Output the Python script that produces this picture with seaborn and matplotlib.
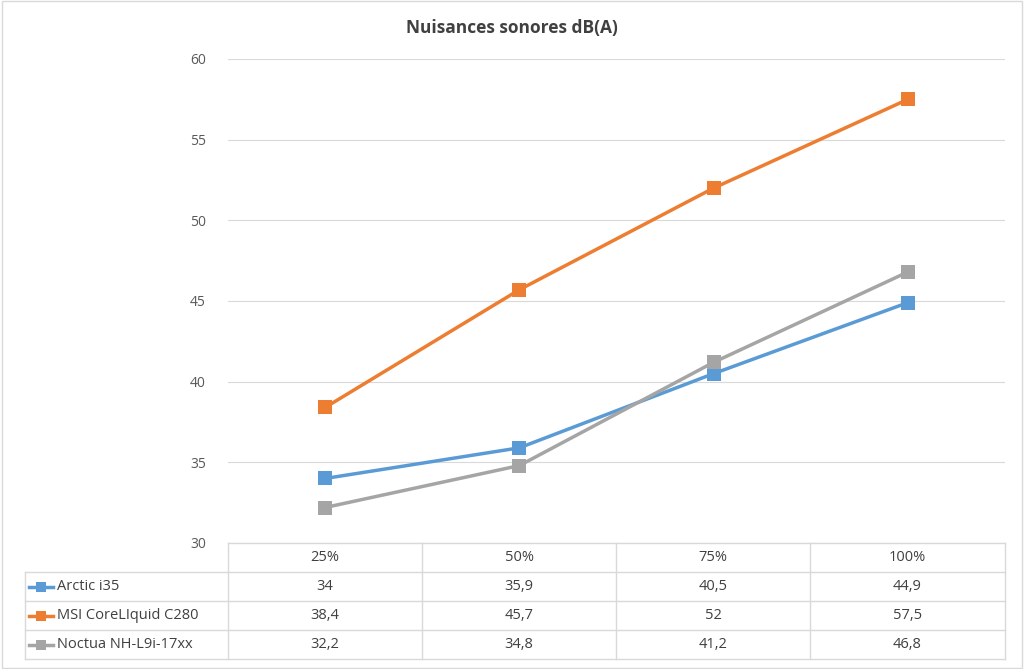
import matplotlib
matplotlib.use("Agg")
import matplotlib.pyplot as plt
from matplotlib.lines import Line2D
import pandas as pd
import seaborn as sns

plt.rcParams["font.family"] = "Open Sans"

categories = ["25%", "50%", "75%", "100%"]
series_names = ["Arctic i35", "MSI CoreLIquid C280", "Noctua NH-L9i-17xx"]
arctic = [34, 35.9, 40.5, 44.9]
msi = [38.4, 45.7, 52, 57.5]
noctua = [32.2, 34.8, 41.2, 46.8]
value_labels = [["34", "35,9", "40,5", "44,9"],
                 ["38,4", "45,7", "52", "57,5"],
                 ["32,2", "34,8", "41,2", "46,8"]]
colors = ["#5B9BD5", "#ED7D31", "#A5A5A5"]

W, H = 1024, 669
fig = plt.figure(figsize=(W / 100, H / 100), dpi=100)


def fx(x):
    return x / W


def fy(y):
    return 1 - y / H


# plot area
ax = fig.add_axes([fx(228), fy(543), fx(1005) - fx(228), fy(59) - fy(543)])
rows = []
for name, vals in zip(series_names, [arctic, msi, noctua]):
    for i, v in enumerate(vals):
        rows.append({"pos": i, "value": v, "series": name})
df = pd.DataFrame(rows)
sns.lineplot(data=df, x="pos", y="value", hue="series", palette=colors,
             marker="s", markersize=10, markeredgewidth=0, linewidth=2.5,
             legend=False, ax=ax)
ax.set_xlim(-0.5, 3.5)
ax.set_ylim(30, 60)
ax.set_yticks(range(30, 61, 5))
ax.set_xticks([])
ax.set_xlabel("")
ax.set_ylabel("")
ax.grid(axis="y", color="#D9D9D9", linewidth=0.8)
ax.set_axisbelow(True)
for s in ax.spines.values():
    s.set_visible(False)
ax.tick_params(axis="y", length=0, labelsize=10, labelcolor="#595959", pad=16)

fig.text(0.5, fy(28), "Nuisances sonores dB(A)", ha="center", va="center",
         fontsize=12.5, fontweight="bold", color="#404040")

# data table
lc = "#D9D9D9"
xs = [228, 422, 616, 810, 1005]
def line(x0, y0, x1, y1):
    fig.add_artist(Line2D([fx(x0), fx(x1)], [fy(y0), fy(y1)], color=lc, lw=1,
                          transform=fig.transFigure))

for x in xs:
    line(x, 543, x, 659)
line(25, 572, 25, 659)
line(228, 543, 1005, 543)
for y in [572, 601, 630, 659]:
    line(25, y, 1005, y)

for i, c in enumerate(categories):
    fig.text(fx((xs[i] + xs[i + 1]) / 2), fy(557.5), c, ha="center", va="center",
             fontsize=10.5, color="#404040")
for r, name in enumerate(series_names):
    yc = 586.5 + 29 * r
    fig.add_artist(Line2D([fx(29), fx(53)], [fy(yc), fy(yc)], color=colors[r],
                          lw=2.5, transform=fig.transFigure))
    fig.add_artist(Line2D([fx(41)], [fy(yc)], color=colors[r], marker="s",
                          markersize=7, markeredgewidth=0,
                          transform=fig.transFigure))
    fig.text(fx(57), fy(yc), name, ha="left", va="center", fontsize=10.5,
             color="#404040")
    for i, lab in enumerate(value_labels[r]):
        fig.text(fx((xs[i] + xs[i + 1]) / 2), fy(yc), lab, ha="center",
                 va="center", fontsize=10.5, color="#404040")

# outer border
fig.add_artist(plt.Rectangle((0.002, 0.002), 0.996, 0.996, fill=False,
                             edgecolor="#D9D9D9", lw=1, transform=fig.transFigure))

fig.savefig("out.png", dpi=100)
